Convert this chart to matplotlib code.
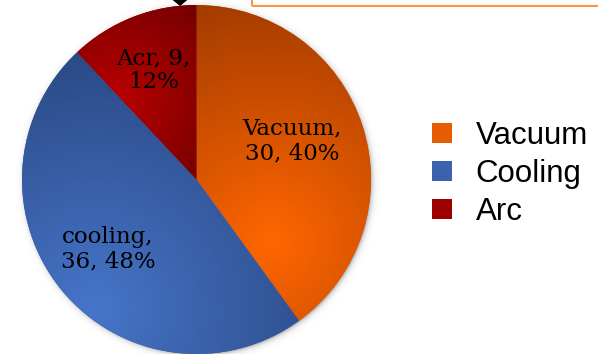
import numpy as np
import matplotlib
matplotlib.use("Agg")
import matplotlib.pyplot as plt
from matplotlib.colors import to_rgb
from matplotlib.patches import Rectangle

# energy split (counts), clockwise from 12 o'clock
names = ["Vacuum", "Cooling", "Arc"]
label_names = ["Vacuum", "cooling", "Acr"]
counts = [30, 36, 9]

# bright / dark ends of each slice gradient
bright = ["#ff6600", "#4675c9", "#b80000"]
dark = ["#933400", "#2a4883", "#680000"]
solid = ["#e65c00", "#3a62ad", "#9c0000"]

W, H = 598, 354
cx, cy, R = 196.5, 174.5, 174.5

fig = plt.figure(figsize=(W / 100, H / 100), dpi=100)
ax = fig.add_axes([0, 0, 1, 1])

# soft drop shadow behind the pie
yy, xx = np.mgrid[0:H, 0:W]
xs = xx + 0.5
ys = H - (yy + 0.5)
d = np.hypot(xs - (cx + 1.5), ys - (cy - 1.5))
sh = np.zeros((H, W, 4))
sh[..., 3] = np.where(d > R - 2, 0.35 * np.exp(-np.clip(d - R + 2, 0, None) / 2.5), 0.35)
ax.imshow(sh, extent=(0, W, 0, H), origin="upper", zorder=0)

wedges, _ = ax.pie(counts, startangle=90, counterclock=False,
                   center=(cx, cy), radius=R, colors=solid, frame=True,
                   wedgeprops=dict(linewidth=0))

# gradient focus (x, y) and spread for each slice
focus = [(272, 112), (95, 45), (118, 258)]
spread = [290, 265, 140]

for w, f, s, b, dk in zip(wedges, focus, spread, bright, dark):
    t = np.clip(np.hypot(xs - f[0], ys - f[1]) / s, 0, 1)[..., None]
    img = np.array(to_rgb(b)) * (1 - t) + np.array(to_rgb(dk)) * t
    im = ax.imshow(img, extent=(0, W, 0, H), origin="upper", zorder=2)
    im.set_clip_path(w)

# slice labels: name, count, share
total = sum(counts)
fracs = [0.59, 0.645, 0.675]
nudge = [4, -1.5, 0]
for w, nm, c, fr, nd in zip(wedges, label_names, counts, fracs, nudge):
    mid = np.deg2rad((w.theta1 + w.theta2) / 2 + nd)
    pct = round(100 * c / total)
    if nm == "Acr":
        txt = f"{nm}, {c},\n{pct}%"
    else:
        txt = f"{nm},\n{c}, {pct}%"
    ax.text(cx + fr * R * np.cos(mid), cy + fr * R * np.sin(mid), txt,
            ha="center", va="center", fontsize=16.5, family="DejaVu Serif",
            linespacing=1.12, zorder=5)

# callout box and arrow running off the top edge
ax.add_patch(Rectangle((252, H - 5.5), 400, 60, fill=False,
                       edgecolor="#f79646", linewidth=1.5, zorder=6))
ax.annotate("", xy=(180, H - 6), xytext=(180, H + 40),
            arrowprops=dict(arrowstyle="-|>,head_length=0.45,head_width=0.55",
                            color="black", lw=2.5, mutation_scale=20,
                            shrinkA=0, shrinkB=0),
            annotation_clip=False, zorder=6)

leg = ax.legend(wedges, names, loc="center left", bbox_to_anchor=(432, H - 174),
                bbox_transform=ax.transData, frameon=False, borderpad=0,
                borderaxespad=0, handlelength=0.64, handleheight=0.64,
                handletextpad=0.75, labelspacing=0.26,
                prop=dict(family="Liberation Sans", size=22.5))

ax.set_xlim(0, W)
ax.set_ylim(0, H)
ax.set_aspect("auto")
ax.axis("off")

fig.savefig("out.png", dpi=100)
